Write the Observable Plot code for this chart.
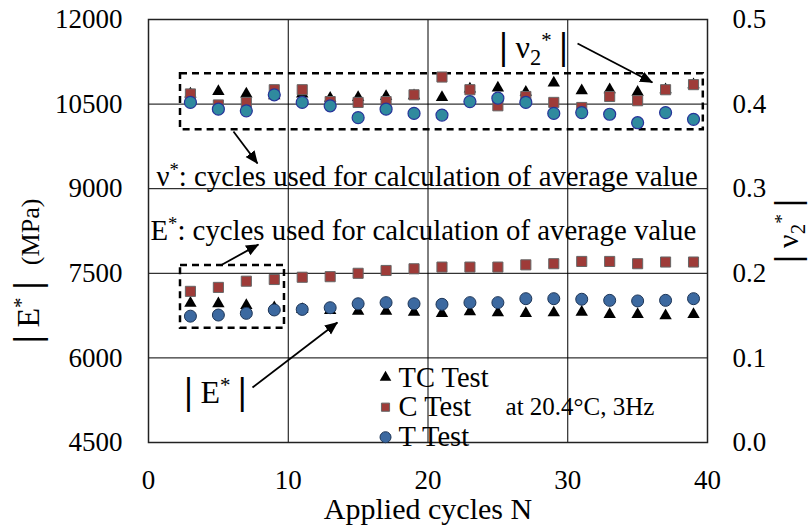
<!DOCTYPE html>
<html>
<head>
<meta charset="utf-8">
<script src="https://cdn.jsdelivr.net/npm/d3@7"></script>
<script src="https://cdn.jsdelivr.net/npm/@observablehq/plot@0.6"></script>
<style>
  html, body { margin: 0; padding: 0; background: #fff; }
  svg text, svg tspan { white-space: pre; font-family: "Liberation Serif", "Times New Roman", serif; }
</style>
</head>
<body>
<script>
// ---------- data ----------
const cycles = [3,5,7,9,11,13,15,17,19,21,23,25,27,29,31,33,35,37,39];
// |E*| (MPa)
const tcE = [6970,6960,6930,6890,6860,6840,6830,6830,6810,6790,6820,6800,6790,6800,6810,6770,6770,6750,6770];
const cE  = [7180,7250,7360,7390,7430,7440,7500,7550,7580,7610,7610,7610,7650,7670,7710,7710,7670,7700,7700];
const tE  = [6740,6760,6790,6850,6860,6890,6960,6980,6960,6950,6980,6980,7050,7050,7040,7020,7010,7020,7050];
// |nu2*|
const tcNu = [0.412,0.415,0.412,0.410,0.412,0.407,0.408,0.409,0.410,0.408,0.418,0.419,0.414,0.425,0.416,0.417,0.414,0.417,0.423];
const cNu  = [0.412,0.399,0.402,0.417,0.417,0.403,0.402,0.403,0.411,0.432,0.417,0.398,0.409,0.402,0.396,0.409,0.404,0.417,0.423];
const tNu  = [0.402,0.394,0.392,0.411,0.402,0.398,0.384,0.394,0.389,0.387,0.403,0.407,0.402,0.389,0.390,0.388,0.378,0.390,0.382];

const xTicks = [0,10,20,30,40];
const eTicks = [4500,6000,7500,9000,10500,12000];
const nuTicks = [0.0,0.1,0.2,0.3,0.4,0.5];
const legendLabels = ["TC Test","C Test","T Test"];
const condition = "at 20.4°C, 3Hz";
const xLabel = "Applied cycles N";
const yLabel = "|E^{*}|  #{(MPa)}";
const y2Label = "|ν_{2}^{*}|";
const nuNote = "ν^{*}: cycles used for calculation of average value";
const eNote = "E^{*}: cycles used for calculation of average value";
const nuTag = "|ν_{2}^{*}|";
const eTag = "|E^{*}|";

// ---------- scales helpers ----------
const E0 = 4500, E1 = 12000;
const nuToE = v => E0 + v * (E1 - E0) / 0.5;   // right axis mapped onto the left scale

const rows = (ys, conv = d => d) => cycles.map((c, i) => ({x: c, y: conv(ys[i])}));

// annotation geometry (data units)
const boxes = [
  {x1: 2.29, x2: 39.7, y1: 10044, y2: 11037},
  {x1: 2.29, x2: 9.73, y1: 6527, y2: 7638}
];
const arrows = [
  {x1: 6.08, y1: 10014, x2: 7.8, y2: 9447},
  {x1: 5.15, y1: 7638, x2: 7.87, y2: 8011},
  {x1: 7.44, y1: 5475, x2: 13.52, y2: 6628},
  {x1: 30.7, y1: 11574, x2: 36.06, y2: 10883}
];
const notes = [
  {x: 0.57, y: 9216, t: nuNote},
  {x: 0.14, y: 8253, t: eNote}
];
const tags = [
  {x: 27.55, y: 11507, t: nuTag},
  {x: 4.79, y: 5387, t: eTag}
];
const legendX = 16.96, legendTextX = 17.89, condX = 25.55;
const legendY = [5652, 5126, 4594];

const sqFill = "#9e3b38", sqStroke = "#666";
const ciFill = "#3c69a0", ciStroke = "#1d3557";
const nuCiFill = "#2f8a9e", nuCiStroke = "#27349a";
const serif = "'Liberation Serif', 'Times New Roman', serif";

const svg = Plot.plot({
  width: 811, height: 528,
  marginLeft: 148, marginRight: 104, marginTop: 19, marginBottom: 86,
  x: {domain: [0, 40]},
  y: {domain: [E0, E1]},
  style: {fontFamily: serif, fontSize: "27px", background: "white", color: "black", overflow: "visible"},
  marks: [
    Plot.gridX({ticks: [10, 20, 30], stroke: "#000", strokeOpacity: 1, strokeWidth: 1}),
    Plot.gridY({ticks: [6000, 7500, 9000, 10500], stroke: "#000", strokeOpacity: 1, strokeWidth: 1}),
    Plot.frame({stroke: "#222", strokeWidth: 1.5}),
    Plot.axisX({ticks: xTicks, tickSize: 0, tickPadding: 27, label: null, fontSize: 27}),
    Plot.axisY({anchor: "left", ticks: eTicks, tickSize: 0, tickPadding: 26, label: null, tickFormat: d => String(d), fontSize: 27}),
    Plot.axisY({anchor: "right", ticks: nuTicks.map(nuToE), tickSize: 0, tickPadding: 25, label: null, tickFormat: d => ((d - E0) / 15000).toFixed(1), fontSize: 27}),
    // dashed boxes
    Plot.rect(boxes, {x1: "x1", x2: "x2", y1: "y1", y2: "y2", fill: "none", stroke: "#000", strokeWidth: 2.5, strokeDasharray: "7,5"}),
    // E* data
    Plot.dot(rows(tcE), {x: "x", y: "y", symbol: "triangle", r: 4.6, fill: "#000"}),
    Plot.dot(rows(cE), {x: "x", y: "y", symbol: "square", r: 5.7, fill: sqFill, stroke: sqStroke, strokeWidth: 1}),
    Plot.dot(rows(tE), {x: "x", y: "y", r: 6, fill: ciFill, stroke: ciStroke, strokeWidth: 1}),
    // nu data
    Plot.dot(rows(tcNu, nuToE), {x: "x", y: "y", symbol: "triangle", r: 4.6, fill: "#000"}),
    Plot.dot(rows(cNu, nuToE), {x: "x", y: "y", symbol: "square", r: 5.7, fill: sqFill, stroke: sqStroke, strokeWidth: 1}),
    Plot.dot(rows(tNu, nuToE), {x: "x", y: "y", r: 6, fill: nuCiFill, stroke: nuCiStroke, strokeWidth: 1.2}),
    // arrows
    Plot.link(arrows, {x1: "x1", y1: "y1", x2: "x2", y2: "y2", stroke: "#000", strokeWidth: 1.8}),
    // notes
    Plot.text(notes, {x: "x", y: "y", text: "t", textAnchor: "start", fontSize: 28.8}),
    Plot.text(tags, {x: "x", y: "y", text: "t", textAnchor: "middle", fontSize: 32}),
    // legend
    Plot.dot([legendLabels[0]], {x: () => legendX, y: () => legendY[0], symbol: "triangle", r: 4.3, fill: "#000"}),
    Plot.dot([legendLabels[1]], {x: () => legendX, y: () => legendY[1], symbol: "square", r: 4.6, fill: sqFill, stroke: sqStroke, strokeWidth: 1}),
    Plot.dot([legendLabels[2]], {x: () => legendX, y: () => legendY[2], r: 5.5, fill: ciFill, stroke: ciStroke, strokeWidth: 1}),
    Plot.text(legendLabels, {x: () => legendTextX, y: (d, i) => legendY[i], text: d => d, textAnchor: "start", fontSize: 28.5}),
    Plot.text([condition], {x: () => condX, y: () => legendY[1], textAnchor: "start", fontSize: 25}),
    // axis titles
    Plot.text([xLabel], {frameAnchor: "bottom", lineAnchor: "middle", textAnchor: "middle", dy: 67, fontSize: 30}),
    Plot.text([yLabel], {frameAnchor: "left", lineAnchor: "middle", textAnchor: "middle", dx: -120, dy: 40, rotate: -90, fontSize: 32}),
    Plot.text([y2Label], {frameAnchor: "right", lineAnchor: "middle", textAnchor: "middle", dx: 81, rotate: -90, fontSize: 30})
  ]
});
document.body.append(svg);

// filled arrowheads
const NS = "http://www.w3.org/2000/svg";
const defs = document.createElementNS(NS, "defs");
const marker = document.createElementNS(NS, "marker");
marker.setAttribute("id", "ahead");
marker.setAttribute("viewBox", "0 -5 10 10");
marker.setAttribute("refX", "9.5");
marker.setAttribute("refY", "0");
marker.setAttribute("markerUnits", "userSpaceOnUse");
marker.setAttribute("markerWidth", "13");
marker.setAttribute("markerHeight", "13");
marker.setAttribute("orient", "auto");
const mp = document.createElementNS(NS, "path");
mp.setAttribute("d", "M0,-4.3L10,0L0,4.3Z");
mp.setAttribute("fill", "#000");
marker.appendChild(mp);
defs.appendChild(marker);
svg.insertBefore(defs, svg.firstChild);
svg.querySelectorAll('g[aria-label="link"] path').forEach(p => p.setAttribute("marker-end", "url(#ahead)"));

// rich text: ^{sup} _{sub} #{smaller} and tall bars
function rich(el) {
  const s = el.textContent;
  if (!/[\^_#]\{|\|/.test(s)) return;
  const fs = parseFloat(getComputedStyle(el).fontSize);
  el.textContent = "";
  const re = /\^\{([^}]*)\}|_\{([^}]*)\}|#\{([^}]*)\}|(\|)|([^\^_#|]+)/g;
  let m, shift = 0, idx = 0;
  while ((m = re.exec(s))) {
    let txt, size = fs, target = 0, bold = false;
    if (m[1] !== undefined) { txt = m[1]; size = fs * 0.65; target = -0.34 * fs; }
    else if (m[2] !== undefined) { txt = m[2]; size = fs * 0.7; target = 0.22 * fs; }
    else if (m[3] !== undefined) { txt = m[3]; size = fs * 0.82; }
    else if (m[4] !== undefined) {
      txt = idx === 0 ? "|\u2009" : "\u2009|";
      size = fs * 1.2; target = 0.04 * fs; bold = true;
    }
    else txt = m[5];
    const t = document.createElementNS(NS, "tspan");
    t.setAttribute("font-size", size.toFixed(1));
    if (bold) t.setAttribute("font-weight", "bold");
    if (Math.abs(target - shift) > 0.01) t.setAttribute("dy", (target - shift).toFixed(2));
    shift = target;
    t.textContent = txt;
    el.appendChild(t);
    idx++;
  }
}
svg.querySelectorAll("text").forEach(rich);
</script>
</body>
</html>
